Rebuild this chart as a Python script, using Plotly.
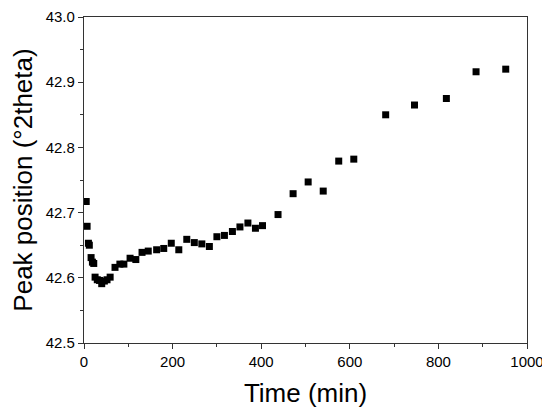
import plotly.graph_objects as go

# Peak position vs time
time_min = [5, 7, 10, 12, 16, 19, 22, 25, 30, 35, 40, 46, 52, 59, 70, 81, 90,
            104, 117, 131, 145, 164, 180, 197, 214, 232, 249, 266, 283, 300,
            317, 335, 352, 370, 387, 403, 438, 472, 506, 540, 575, 609, 681,
            746, 818, 885, 952]
peak_pos = [42.717, 42.679, 42.653, 42.650, 42.631, 42.624, 42.622, 42.601,
            42.597, 42.596, 42.591, 42.595, 42.597, 42.601, 42.616, 42.621,
            42.621, 42.630, 42.628, 42.639, 42.641, 42.643, 42.645, 42.653,
            42.643, 42.659, 42.654, 42.652, 42.648, 42.663, 42.665, 42.671,
            42.678, 42.684, 42.676, 42.680, 42.697, 42.729, 42.747, 42.733,
            42.779, 42.782, 42.850, 42.865, 42.875, 42.916, 42.920]

font = "Liberation Sans, Arial, sans-serif"

fig = go.Figure(go.Scatter(
    x=time_min, y=peak_pos, mode="markers",
    marker=dict(symbol="square", size=7, color="black"),
))

axis_common = dict(
    showgrid=False, zeroline=False, automargin=False,
    showline=True, linecolor="#333", linewidth=1.2, mirror=True,
    ticks="outside", ticklen=5, tickwidth=1, tickcolor="#333",
    ticklabeloverflow="allow",
    tickfont=dict(family=font, size=15, color="black"),
)

fig.update_xaxes(
    range=[0, 1000], dtick=200,
    minor=dict(dtick=100, ticks="outside", ticklen=3, tickcolor="#333"),
    title=dict(text="Time (min)", font=dict(family=font, size=26, color="black"),
               standoff=14),
    **axis_common,
)
fig.update_yaxes(
    range=[42.5, 43.0], dtick=0.1, tickformat=".1f",
    minor=dict(dtick=0.05, ticks="outside", ticklen=3, tickcolor="#333"),
    title=dict(text="Peak position (°2theta)",
               font=dict(family=font, size=26, color="black"), standoff=10),
    **axis_common,
)

# the page body adds an 8px offset, so the figure is 8px smaller
fig.update_layout(
    width=542, height=405,
    margin=dict(l=76, r=23, t=9, b=70),
    plot_bgcolor="white", paper_bgcolor="white",
    showlegend=False,
)

fig.write_html("out.html")
